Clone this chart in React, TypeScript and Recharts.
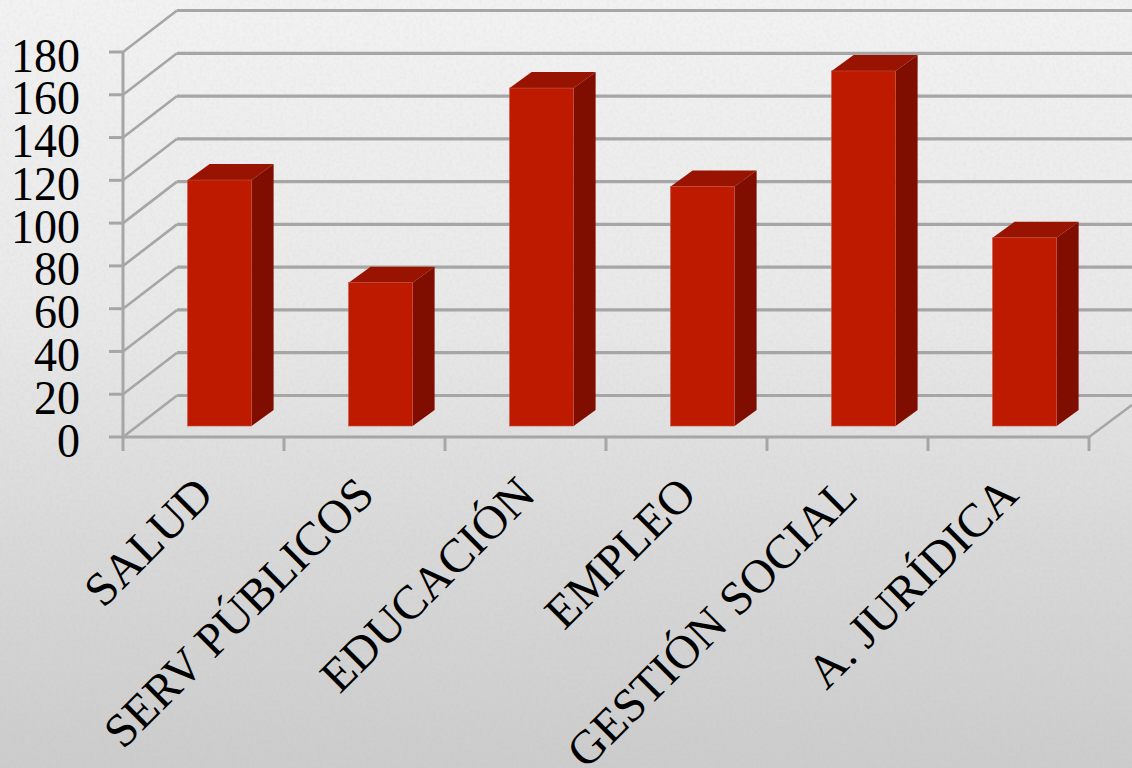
import React from "react";
import { BarChart, Bar, XAxis, YAxis, CartesianGrid } from "recharts";

const categories = ["SALUD", "SERV PÚBLICOS", "EDUCACIÓN", "EMPLEO", "GESTIÓN SOCIAL", "A. JURÍDICA"];
const values = [115, 67, 158, 112, 166, 88];
const yTicks = [0, 20, 40, 60, 80, 100, 120, 140, 160, 180];

const data = categories.map((name, i) => ({ name, value: values[i] }));

const W = 1132;
const H = 768;
const LEFT = 123;
const RIGHT = 1089;
const TOP = 52;
const BOTTOM = 437;
const WALL_DX = 54;
const WALL_DY = 41.5;
const BAND = (RIGHT - LEFT) / categories.length;
const BAR_DX = 16.3;
const BAR_DY = 11;
const DEPTH_X = 22;
const DEPTH_Y = 16;
const GRID = "#a6a6a6";
const FONT = "'Liberation Serif', 'Times New Roman', serif";

function Bar3D(props: any) {
  const { x, y, width, height } = props;
  const l = x + BAR_DX;
  const r = l + width;
  const t = y - BAR_DY;
  const b = t + height;
  return (
    <g>
      <path d={`M${l},${t} L${l + DEPTH_X},${t - DEPTH_Y} L${r + DEPTH_X},${t - DEPTH_Y} L${r},${t} Z`} fill="#981300" />
      <path d={`M${r},${t} L${r + DEPTH_X},${t - DEPTH_Y} L${r + DEPTH_X},${b - DEPTH_Y} L${r},${b} Z`} fill="#7f0d00" />
      <rect x={l} y={t} width={width} height={height} fill="#bd1a00" stroke="#c4503c" strokeWidth={0.6} />
    </g>
  );
}

function GridLine(props: any) {
  const { x1, y1, x2, y2 } = props;
  const isFloor = Math.abs(y1 - BOTTOM) < 1;
  return (
    <g fill="none" stroke={GRID}>
      <path d={`M${x1},${y1} L${x1 + WALL_DX},${y1 - WALL_DY}`} strokeWidth={2.6} />
      <path d={`M${x1 + WALL_DX},${y1 - WALL_DY} L${W},${y1 - WALL_DY}`} strokeWidth={3.2} />
      {isFloor ? <path d={`M${x2},${y2} L${W},${y2 - 32}`} strokeWidth={2.6} /> : null}
    </g>
  );
}

function XTick(props: any) {
  const { x, payload, index } = props;
  const left = x - BAND / 2;
  const tx = x + 12;
  const ty = BOTTOM + 60;
  return (
    <g>
      <line x1={left} y1={BOTTOM} x2={left} y2={BOTTOM + 14} stroke={GRID} strokeWidth={3} />
      {index === categories.length - 1 ? (
        <line x1={left + BAND} y1={BOTTOM} x2={left + BAND} y2={BOTTOM + 14} stroke={GRID} strokeWidth={3} />
      ) : null}
      <text
        x={tx}
        y={ty}
        textAnchor="end"
        fontFamily={FONT}
        fontSize={47.5}
        fill="#000"
        transform={`rotate(-45 ${tx} ${ty})`}
      >
        {payload.value}
      </text>
    </g>
  );
}

function YTick(props: any) {
  const { y, payload } = props;
  const by = y + 19.5;
  return (
    <text
      x={0}
      y={0}
      textAnchor="end"
      fontFamily={FONT}
      fontSize={46}
      fill="#000"
      transform={`translate(80 ${by}) scale(1 1.07)`}
    >
      {payload.value}
    </text>
  );
}

export default function App() {
  return (
    <div style={{ position: "fixed", left: 0, top: 0, width: W, height: H, overflow: "hidden" }}>
      <svg width={W} height={H} style={{ position: "absolute", left: 0, top: 0 }}>
        <defs>
          <linearGradient id="bg" x1="0" y1="0" x2="0" y2="1">
            <stop offset="0" stopColor="#f2f2f2" />
            <stop offset="0.4" stopColor="#e9e9e9" />
            <stop offset="0.7" stopColor="#d9d9d9" />
            <stop offset="1" stopColor="#cccccc" />
          </linearGradient>
          <filter id="paper" x="0" y="0" width="100%" height="100%">
            <feTurbulence type="fractalNoise" baseFrequency="0.3" numOctaves={2} seed={4} />
            <feColorMatrix values="0 0 0 0 0.45  0 0 0 0 0.45  0 0 0 0 0.45  1.2 0 0 0 -0.45" />
          </filter>
        </defs>
        <rect width={W} height={H} fill="url(#bg)" />
        <rect width={W} height={H} filter="url(#paper)" opacity={0.16} />
      </svg>
      <div style={{ position: "absolute", left: 0, top: 0 }}>
        <BarChart
          width={W}
          height={H}
          data={data}
          margin={{ top: TOP, right: W - RIGHT, bottom: 0, left: 0 }}
          barCategoryGap="30%"
        >
          <CartesianGrid vertical={false} horizontal={(p: any) => <GridLine {...p} key={p.key ?? p.index} />} />
          <XAxis
            dataKey="name"
            height={H - BOTTOM}
            interval={0}
            axisLine={{ stroke: GRID, strokeWidth: 3 }}
            tickLine={false}
            tick={<XTick />}
          />
          <YAxis
            width={LEFT}
            domain={[0, 180]}
            ticks={yTicks}
            interval={0}
            axisLine={{ stroke: GRID, strokeWidth: 3 }}
            tickLine={{ stroke: GRID, strokeWidth: 3 }}
            tickSize={14}
            tick={<YTick />}
          />
          <Bar dataKey="value" isAnimationActive={false} shape={<Bar3D />} />
        </BarChart>
      </div>
    </div>
  );
}
